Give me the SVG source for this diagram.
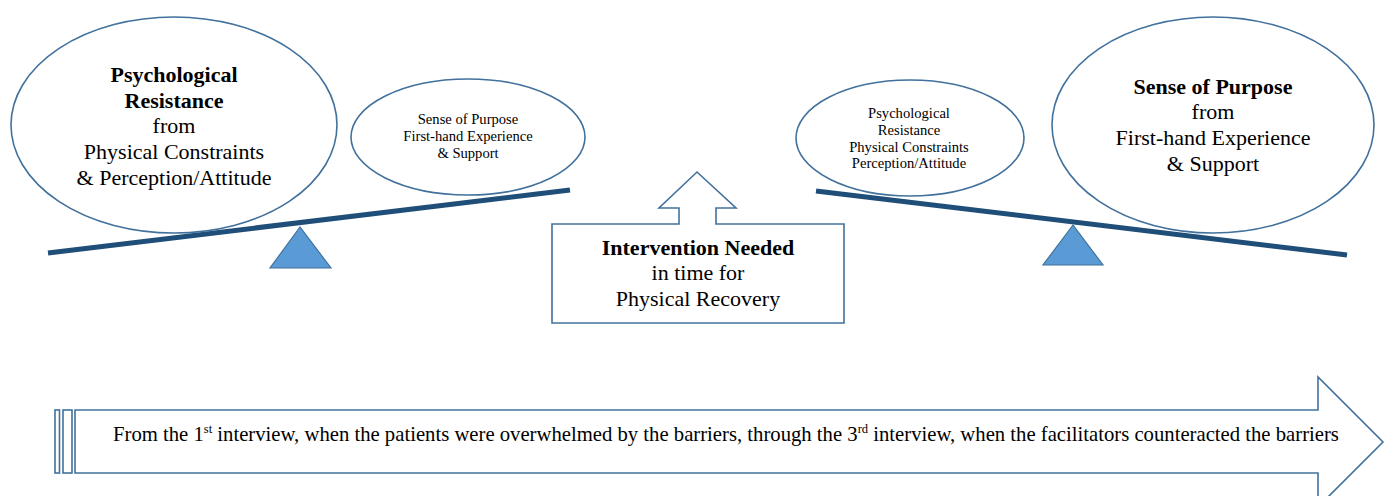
<svg xmlns="http://www.w3.org/2000/svg" width="1389" height="496" viewBox="0 0 1389 496">
<style>
.shape{fill:#ffffff;stroke:#41719c;stroke-width:1.6}
.beam{stroke:#1f4e79;stroke-width:5;stroke-linecap:butt}
.tri{fill:#5b9bd5;stroke:#41719c;stroke-width:1.2}
text{font-family:"Liberation Serif","Times New Roman",serif;fill:#000;text-anchor:middle}
.big{font-size:22px}
.sm{font-size:14.6px}
.b{font-weight:bold}
.tl{font-size:20.7px;text-anchor:start}
</style>
<g id="connectors">
<line class="beam" x1="48" y1="253" x2="570" y2="190"/>
<line class="beam" x1="816" y1="191" x2="1347" y2="255"/>
</g>
<g id="fulcrum-left"><polygon class="tri" points="300,227 270,268 331,268"/></g>
<g id="fulcrum-right"><polygon class="tri" points="1073,225 1043,265 1103,265"/></g>
<g id="left-big">
<ellipse class="shape" cx="174" cy="125" rx="163" ry="108"/>
<text class="big b" x="174" y="82">Psychological</text>
<text class="big b" x="174" y="108">Resistance</text>
<text class="big" x="174" y="133">from</text>
<text class="big" x="174" y="159">Physical Constraints</text>
<text class="big" x="174" y="185">&amp; Perception/Attitude</text>
</g>
<g id="left-small">
<ellipse class="shape" cx="468" cy="137" rx="117" ry="58"/>
<text class="sm" x="468" y="124">Sense of Purpose</text>
<text class="sm" x="468" y="141">First-hand Experience</text>
<text class="sm" x="468" y="158">&amp; Support</text>
</g>
<g id="right-small">
<ellipse class="shape" cx="910" cy="138" rx="114" ry="58"/>
<text class="sm" x="909" y="118">Psychological</text>
<text class="sm" x="909" y="135">Resistance</text>
<text class="sm" x="909" y="152">Physical Constraints</text>
<text class="sm" x="909" y="168">Perception/Attitude</text>
</g>
<g id="right-big">
<ellipse class="shape" cx="1213" cy="125" rx="161" ry="108"/>
<text class="big b" x="1213" y="94">Sense of Purpose</text>
<text class="big" x="1213" y="119">from</text>
<text class="big" x="1213" y="145">First-hand Experience</text>
<text class="big" x="1213" y="171">&amp; Support</text>
</g>
<g id="intervention">
<path class="shape" d="M697,172 L736,208 L716,208 L716,224 L844,224 L844,323 L552,323 L552,224 L679,224 L679,208 L659,208 Z"/>
<text class="big b" x="698" y="255">Intervention Needed</text>
<text class="big" x="698" y="280">in time for</text>
<text class="big" x="698" y="306">Physical Recovery</text>
</g>
<g id="timeline">
<rect class="shape" x="55" y="410" width="4.5" height="63"/>
<rect class="shape" x="63" y="410" width="9" height="63"/>
<path class="shape" d="M75,410 L1318,410 L1318,377 L1383,442 L1318,507 L1318,473 L75,473 Z"/>
<text class="tl" x="113" y="441">From the 1<tspan font-size="12.5" dy="-8">st</tspan><tspan dy="8"> interview, when the patients were overwhelmed by the barriers, through the 3</tspan><tspan font-size="12.5" dy="-8">rd</tspan><tspan dy="8"> interview, when the facilitators counteracted the barriers</tspan></text>
</g>
</svg>
